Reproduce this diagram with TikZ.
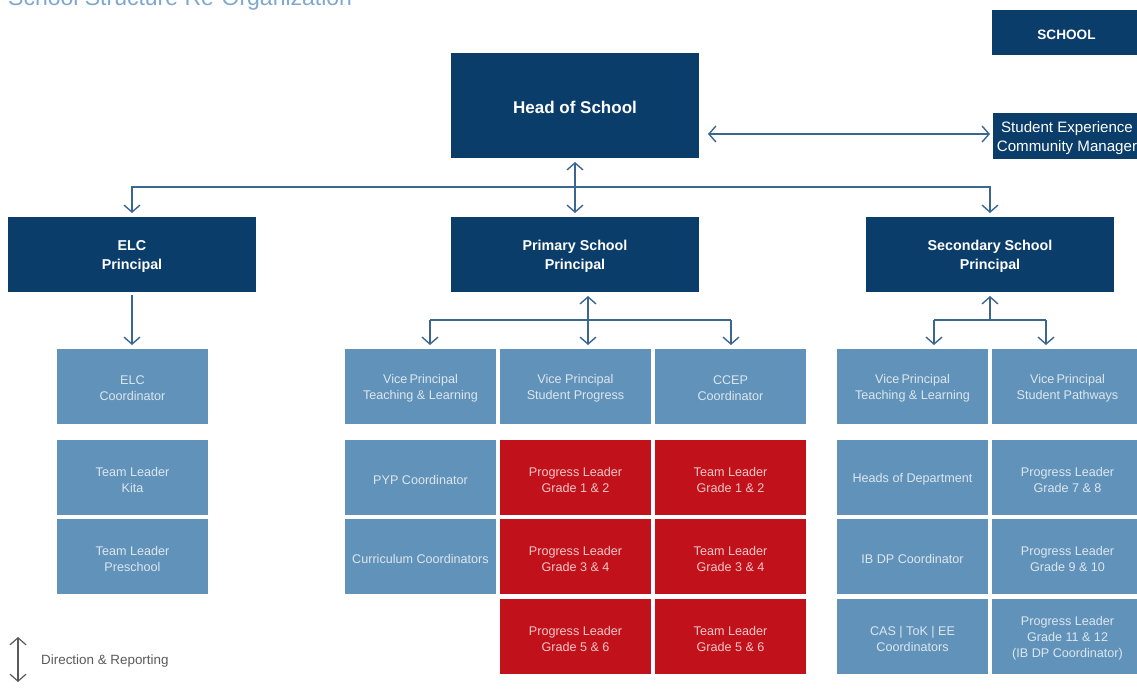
\documentclass[tikz,border=0pt]{standalone}
\usepackage{fontspec}
\setmainfont{Liberation Sans}
\usetikzlibrary{arrows.meta}
\definecolor{navyc}{HTML}{0B3D6B}
\definecolor{lbc}{HTML}{6193BA}
\definecolor{redc}{HTML}{C1121C}
\definecolor{lbtext}{HTML}{DCE6EF}
\definecolor{redtext}{HTML}{F3C6C8}
\definecolor{arrc}{HTML}{3A6690}
\definecolor{titlec}{HTML}{7FA8CF}
\definecolor{legc}{HTML}{5A5A5A}
\newcommand\Bx[7]{\node[#6, minimum width={#4-#2}, minimum height={#5-#3}] (#1) at ({(#2+#4)/2},{(#3+#5)/2}) {};
  \node[#6, fill=none] (#1-t) at ([yshift=-2pt]#1.center) {#7};}
\tikzset{
  basebox/.style={inner sep=0pt, outer sep=0pt, align=center},
  navybox/.style={basebox, fill=navyc, text=white, font=\bfseries\fontsize{14.3}{19}\selectfont},
  lbbox/.style={basebox, fill=lbc, text=lbtext, font=\fontsize{12.6}{16}\selectfont},
  redbox/.style={basebox, fill=redc, text=redtext, font=\fontsize{12.6}{16}\selectfont},
  conn/.style={draw=arrc, line width=1.4pt},
  arr/.style={conn, -{Straight Barb[length=7pt,width=16pt]}},
  darr/.style={conn, {Straight Barb[length=7pt,width=16pt]}-{Straight Barb[length=7pt,width=16pt]}},
}
\begin{document}
\begin{tikzpicture}[x=1pt,y=-1pt]
\useasboundingbox (0,0) rectangle (1137,695);
% title
\node[anchor=base west, inner sep=0pt, text=titlec, font=\fontsize{23}{28}\selectfont] (title) at (8,6) {School Structure Re-Organization};
% top
\Bx{school}{992}{10}{1141}{55}{navybox, font=\bfseries\fontsize{13.6}{18}\selectfont}{SCHOOL}
\Bx{head}{451}{53}{699}{158}{navybox, font=\bfseries\fontsize{17}{22}\selectfont}{Head of School}
\Bx{secm}{993}{113}{1141}{159}{navybox, font=\fontsize{15.1}{19}\selectfont}{Student Experience\\Community Manager}
% principals
\Bx{elc}{8}{217}{256}{292}{navybox}{ELC\\Principal}
\Bx{prim}{451}{217}{699}{292}{navybox}{Primary School\\Principal}
\Bx{sec}{866}{217}{1114}{292}{navybox}{Secondary School\\Principal}
% ELC column
\Bx{elccoord}{57}{349}{208}{424}{lbbox}{ELC\\Coordinator}
\Bx{kita}{57}{440}{208}{515}{lbbox}{Team Leader\\Kita}
\Bx{presch}{57}{519}{208}{594}{lbbox}{Team Leader\\Preschool}
% Primary
\Bx{pvptl}{345}{349}{496}{424}{lbbox}{Vice\,Principal\\Teaching \& Learning}
\Bx{pvpsp}{500}{349}{651}{424}{lbbox}{Vice Principal\\Student Progress}
\Bx{ccep}{655}{349}{806}{424}{lbbox}{CCEP\\Coordinator}
\Bx{pyp}{345}{440}{496}{515}{lbbox}{PYP Coordinator}
\Bx{curr}{345}{519}{496}{594}{lbbox}{Curriculum Coordinators}
\Bx{plA}{500}{440}{651}{515}{redbox}{Progress Leader\\Grade 1 \& 2}
\Bx{tlA}{655}{440}{806}{515}{redbox}{Team Leader\\Grade 1 \& 2}
\Bx{plB}{500}{519}{651}{594}{redbox}{Progress Leader\\Grade 3 \& 4}
\Bx{tlB}{655}{519}{806}{594}{redbox}{Team Leader\\Grade 3 \& 4}
\Bx{plC}{500}{599}{651}{674}{redbox}{Progress Leader\\Grade 5 \& 6}
\Bx{tlC}{655}{599}{806}{674}{redbox}{Team Leader\\Grade 5 \& 6}
% Secondary
\Bx{svptl}{837}{349}{988}{424}{lbbox}{Vice\,Principal\\Teaching \& Learning}
\Bx{svpsp}{992}{349}{1143}{424}{lbbox}{Vice\,Principal\\Student Pathways}
\Bx{hod}{837}{440}{988}{515}{lbbox}{Heads of Department}
\Bx{ibdp}{837}{519}{988}{594}{lbbox}{IB DP Coordinator}
\Bx{cas}{837}{599}{988}{674}{lbbox}{CAS | ToK | EE\\Coordinators}
\Bx{plD}{992}{440}{1143}{515}{lbbox}{Progress Leader\\Grade 7 \& 8}
\Bx{plE}{992}{519}{1143}{594}{lbbox}{Progress Leader\\Grade 9 \& 10}
\Bx{plF}{992}{599}{1143}{674}{lbbox}{Progress Leader\\Grade 11 \& 12\\(IB DP Coordinator)}
% connectors top
\coordinate (hrow) at (0,134);
\draw[darr, shorten <=9pt, shorten >=3pt] (head.east |- hrow) -- (secm.west |- hrow);
\draw[darr, shorten <=4pt, shorten >=4pt] (head.south) -- (prim.north);
\coordinate (bus) at (575,187);
\draw[arr, shorten >=4pt] (bus) -| (elc.north);
\draw[arr, shorten >=4pt] (bus) -| (sec.north);
% ELC
\draw[arr, shorten <=3pt, shorten >=4pt] (elc.south) -- (elc.south |- elccoord.north);
% Primary
\coordinate (pbus) at (588,320);
\coordinate (pL) at (430,320);
\coordinate (pR) at (731,320);
\draw[darr, shorten <=4pt, shorten >=4pt] (prim.south -| pbus) -- (pvpsp.north -| pbus);
\draw[conn] (pL) -- (pR);
\draw[arr, shorten >=4pt] (pL) -- (pvptl.north -| pL);
\draw[arr, shorten >=4pt] (pR) -- (ccep.north -| pR);
% Secondary
\coordinate (sbus) at (990,320);
\coordinate (sL) at (934,320);
\coordinate (sR) at (1046,320);
\draw[arr, shorten >=4pt] (sbus) -- (sec.south -| sbus);
\draw[conn] (sL) -- (sR);
\draw[arr, shorten >=4pt] (sL) -- (svptl.north -| sL);
\draw[arr, shorten >=4pt] (sR) -- (svpsp.north -| sR);
% legend
\coordinate (legtop) at (18,637);
\coordinate (legbot) at (18,682);
\draw[draw=legc, line width=1.2pt, {Straight Barb[length=7pt,width=16pt]}-{Straight Barb[length=7pt,width=16pt]}] (legtop) -- (legbot);
\node[anchor=west, inner sep=0pt, text=legc, font=\fontsize{13.4}{16}\selectfont] (legend) at (41,661) {Direction \& Reporting};
\end{tikzpicture}
\end{document}
